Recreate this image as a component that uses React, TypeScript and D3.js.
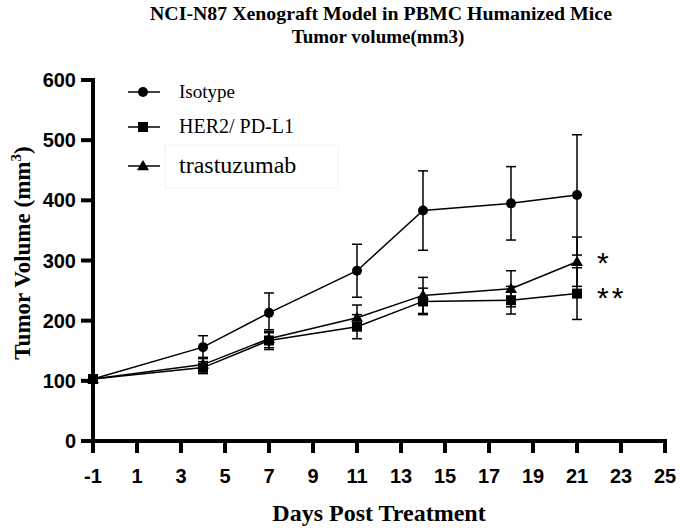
import React from "react";
import * as d3 from "d3";

const days = [-1, 4, 7, 11, 14, 18, 21];
const isotype = [103, 156, 213, 283, 383, 395, 409];
const isotypeErr = [4, 19, 33, 44, 66, 61, 100];
const her2 = [103, 122, 167, 190, 232, 234, 245];
const her2Err = [4, 10, 15, 20, 22, 23, 43];
const trastu = [103, 127, 170, 205, 242, 253, 298];
const trastuErr = [4, 12, 15, 21, 30, 30, 41];
const xTicks = [-1, 1, 3, 5, 7, 9, 11, 13, 15, 17, 19, 21, 23, 25];
const yTicks = [0, 100, 200, 300, 400, 500, 600];
const seriesNames = ["Isotype", "HER2/ PD-L1", "trastuzumab"];

const W = 680, H = 529;
const x = d3.scaleLinear().domain([-1, 25]).range([93, 665]);
const y = d3.scaleLinear().domain([0, 600]).range([441, 80]);

const serif = "'Liberation Serif', 'Times New Roman', serif";
const sans = "'Liberation Sans', Arial, sans-serif";

function Marker({ type, cx, cy }: { type: string; cx: number; cy: number }) {
  if (type === "circle") return <circle cx={cx} cy={cy} r={5} fill="#000" />;
  if (type === "square") return <rect x={cx - 5} y={cy - 5} width={10} height={10} fill="#000" />;
  const s = 6;
  return <path d={`M${cx},${cy - s}L${cx + s},${cy + s * 0.7}L${cx - s},${cy + s * 0.7}Z`} fill="#000" />;
}

export default function App() {
  const series = [
    { name: seriesNames[0], vals: isotype, err: isotypeErr, m: "circle" },
    { name: seriesNames[1], vals: her2, err: her2Err, m: "square" },
    { name: seriesNames[2], vals: trastu, err: trastuErr, m: "triangle" },
  ];
  const line = d3.line<number>().x((_, i) => x(days[i])).y((v) => y(v));
  const legendY = [92, 127, 166];
  const legendTextY = [98, 133, 173];
  const legendSize = [19, 20, 24];
  return (
    <svg width={W} height={H} style={{ position: "absolute", left: 0, top: 0, background: "#fff" }}>
      <rect width={W} height={H} fill="#fff" />
      <text x={381} y={20} textAnchor="middle" fontFamily={serif} fontWeight="bold" fontSize={19} textLength={462} lengthAdjust="spacingAndGlyphs">
        NCI-N87 Xenograft Model in PBMC Humanized Mice
      </text>
      <text x={378} y={43} textAnchor="middle" fontFamily={serif} fontWeight="bold" fontSize={19}>
        Tumor volume(mm3)
      </text>

      {/* axes */}
      <line x1={x(-1)} x2={x(-1)} y1={y(600) - 2} y2={y(0) + 2} stroke="#000" strokeWidth={4} />
      <line x1={x(-1) - 2} x2={x(25) + 2} y1={y(0)} y2={y(0)} stroke="#000" strokeWidth={4} />
      {yTicks.map((t) => (
        <g key={t}>
          <line x1={x(-1) - 12} x2={x(-1)} y1={y(t)} y2={y(t)} stroke="#000" strokeWidth={4} />
          <text x={x(-1) - 17} y={y(t) + 7} textAnchor="end" fontFamily={sans} fontWeight="bold" fontSize={20}>
            {t}
          </text>
        </g>
      ))}
      {xTicks.map((t) => (
        <g key={t}>
          <line x1={x(t)} x2={x(t)} y1={y(0)} y2={y(0) + 12} stroke="#000" strokeWidth={4} />
          <text x={x(t)} y={483} textAnchor="middle" fontFamily={sans} fontWeight="bold" fontSize={20}>
            {t}
          </text>
        </g>
      ))}
      <text x={379} y={521} textAnchor="middle" fontFamily={serif} fontWeight="bold" fontSize={24}>
        Days Post Treatment
      </text>
      <text transform={`translate(30,${253}) rotate(-90)`} textAnchor="middle" fontFamily={serif} fontWeight="bold" fontSize={23}>
        Tumor Volume (mm<tspan dy={-9} fontSize={15}>3</tspan><tspan dy={9}>)</tspan>
      </text>

      {/* series */}
      {series.map((s) => (
        <g key={s.name}>
          <path d={line(s.vals) || ""} fill="none" stroke="#000" strokeWidth={1.5} />
          {s.vals.map((v, i) => (
            <g key={i}>
              <line x1={x(days[i])} x2={x(days[i])} y1={y(v - s.err[i])} y2={y(v + s.err[i])} stroke="#000" strokeWidth={1.5} />
              <line x1={x(days[i]) - 5} x2={x(days[i]) + 5} y1={y(v + s.err[i])} y2={y(v + s.err[i])} stroke="#000" strokeWidth={1.5} />
              <line x1={x(days[i]) - 5} x2={x(days[i]) + 5} y1={y(v - s.err[i])} y2={y(v - s.err[i])} stroke="#000" strokeWidth={1.5} />
              <Marker type={s.m} cx={x(days[i])} cy={y(v)} />
            </g>
          ))}
        </g>
      ))}

      {/* significance */}
      <text x={597} y={273} fontFamily={sans} fontSize={30}>*</text>
      <text x={597} y={308} fontFamily={sans} fontSize={30} letterSpacing={3}>**</text>

      {/* legend */}
      <rect x={165} y={145} width={173} height={43} fill="none" stroke="#f2f2f2" strokeWidth={1} />
      {series.map((s, i) => (
        <g key={s.name}>
          <line x1={128} x2={160} y1={legendY[i]} y2={legendY[i]} stroke="#000" strokeWidth={1.5} />
          <Marker type={s.m} cx={143} cy={legendY[i]} />
          <text x={179} y={legendTextY[i]} fontFamily={serif} fontSize={legendSize[i]}>
            {s.name}
          </text>
        </g>
      ))}
    </svg>
  );
}
